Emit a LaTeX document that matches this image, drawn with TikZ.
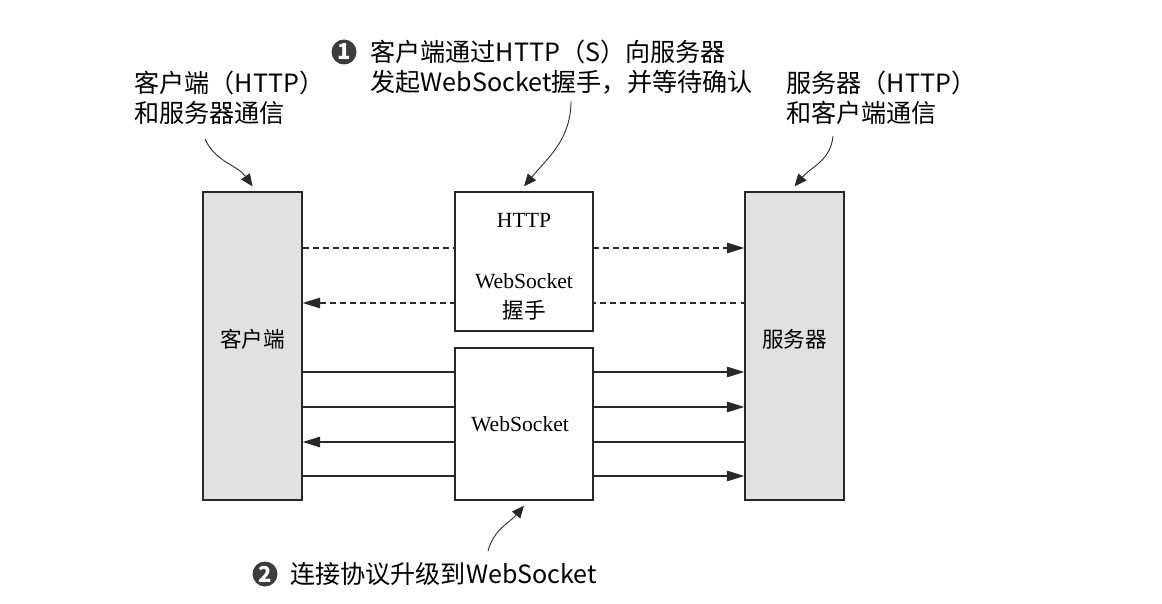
\documentclass[tikz,border=0pt]{standalone}
\usepackage{fontspec}
\setmainfont{Liberation Serif}
\newfontfamily\cjk{Noto Sans CJK SC}
\usetikzlibrary{arrows.meta,positioning,backgrounds}
\definecolor{boxgray}{RGB}{225,225,225}
\definecolor{linegray}{RGB}{40,40,40}
\definecolor{dotgray}{RGB}{60,60,60}
\tikzstyle{arrow} = [line width=0.75pt,>={Triangle[length=10pt,width=6pt]},color=linegray]
\tikzstyle{notearrow} = [line width=0.5pt,-{Triangle[length=7pt,width=6pt]},color=linegray]
\tikzstyle{boxtext} = [inner sep=0pt,align=center,font=\fontsize{12.3}{15}\selectfont]
\tikzstyle{endbox} = [draw=linegray,line width=0.75pt,fill=boxgray,minimum width=1.98cm,minimum height=6.16cm,inner sep=0pt]
\tikzstyle{midbox} = [draw=linegray,line width=0.75pt,fill=white,minimum width=2.76cm,inner sep=0pt]
\tikzstyle{note} = [inner sep=0pt,align=left,font=\cjk\fontsize{14.3}{17}\selectfont]
\tikzstyle{circnum} = [circle,fill=dotgray,text=white,inner sep=0pt,minimum size=0.5cm,font=\cjk\bfseries\fontsize{12.5}{13}\selectfont]

\begin{document}
\begin{tikzpicture}[x=0.02cm, y=-0.02cm]
\useasboundingbox (0,0) rectangle (1162,604);

% Client and server
\node[endbox, label={[boxtext, yshift=0.14cm]center:{\cjk 客户端}}] (client) at (252.5,346) {};
\node[endbox, label={[boxtext, yshift=0.14cm]center:{\cjk 服务器}}] (server) at (794.5,346) {};

% Middle boxes
\node[midbox, minimum height=2.78cm, label={[boxtext, yshift=-0.1cm]center:HTTP\\[0.7cm]WebSocket\\[1.7pt]{\cjk 握手}}] (hs) at (524,261.5) {};
\node[midbox, minimum height=3.04cm, label={[boxtext, xshift=-0.08cm]center:WebSocket}] (ws) at (524,424) {};

% Connections (behind the boxes)
\begin{scope}[on background layer]
\draw[arrow, ->, dash pattern=on 3.4pt off 2.3pt] (client.east |- 0,248) -- (server.west |- 0,248);
\draw[arrow, <-, dash pattern=on 3.4pt off 2.3pt] (client.east |- 0,303) -- (server.west |- 0,303);
\foreach \y/\dir in {372/->, 407/->, 442/<-, 476/->} {
    \draw[arrow, \dir] (client.east |- 0,\y) -- (server.west |- 0,\y);
}
\end{scope}

% Notes
\node[note, anchor=west] (cnote) at (134,98) {客户端（HTTP）\\和服务器通信};
\node[note, anchor=west] (snote) at (786,98) {服务器（HTTP）\\和客户端通信};
\node[circnum] (n1) at (344,52) {1};
\node[note, anchor=west] (hsnote) at (370,67.5) {客户端通过HTTP（S）向服务器\\发起WebSocket握手，并等待确认};
\node[circnum] (n2) at (265,574) {2};
\node[note, right=0.24cm of n2] (upnote) {连接协议升级到WebSocket};

% Note arrows
\coordinate (c1) at (205,139);
\coordinate (c2) at (571,101);
\coordinate (c3) at (833,136);
\coordinate (c4) at (488,551);
\draw[notearrow] (c1) to[out=-65, in=125] ([yshift=0.1cm]client.north);
\draw[notearrow] (c2) to[out=-90, in=50] ([yshift=0.1cm]hs.north);
\draw[notearrow] (c3) to[out=-95, in=50] ([yshift=0.1cm]server.north);
\draw[notearrow] (c4) to[out=75, in=-130] ([yshift=-0.1cm]ws.south);
\end{tikzpicture}
\end{document}
